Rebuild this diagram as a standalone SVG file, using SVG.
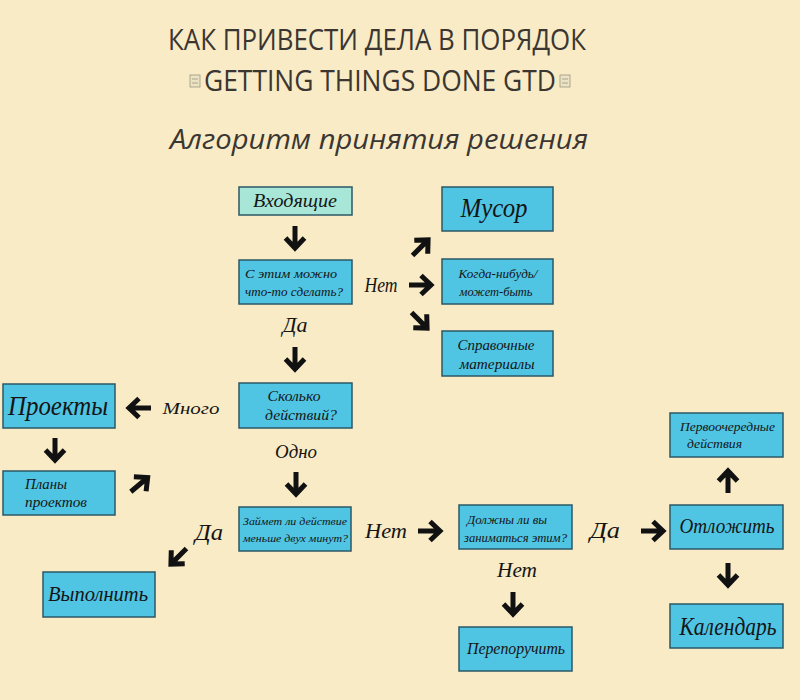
<svg xmlns="http://www.w3.org/2000/svg" width="800" height="700" viewBox="0 0 800 700">
<style>
.bg{fill:#f8ebc6}
.box{fill:#4fc4e3;stroke:#2b5866;stroke-width:1.5}
.mint{fill:#a8e7d8;stroke:#2b5866;stroke-width:1.5}
.t{font-family:"Liberation Serif","DejaVu Serif",serif;font-style:italic;fill:#151515;text-anchor:middle}
.tl{font-family:"Liberation Serif","DejaVu Serif",serif;font-style:italic;fill:#151515}
.lab{font-family:"Liberation Serif","DejaVu Serif",serif;font-style:italic;fill:#151515;text-anchor:middle}
.title{font-family:"Open Sans","DejaVu Sans",sans-serif;fill:#3b3631;text-anchor:middle}
.arr{fill:none;stroke:#111;stroke-width:5;stroke-linejoin:miter}
.tofu{fill:#ece3c4;stroke:#9c9680;stroke-width:0.8}
</style>
<defs>
<g id="ar"><path class="arr" d="M-12,0 H9 M0,-9.5 L10,0 L0,9.5"/></g>
</defs>
<rect class="bg" x="0" y="0" width="800" height="700"/>
<g id="title">
<text class="title" x="377" y="50" font-size="30" textLength="418" lengthAdjust="spacingAndGlyphs">КАК ПРИВЕСТИ ДЕЛА В ПОРЯДОК</text>
<text class="title" x="380" y="91" font-size="30" textLength="352" lengthAdjust="spacingAndGlyphs">GETTING THINGS DONE GTD</text>
<rect class="tofu" x="190" y="75" width="10" height="12"/>
<path d="M192,79 h6 M192,83 h6" stroke="#9c9680" stroke-width="0.8"/>
<rect class="tofu" x="560" y="75" width="10" height="12"/>
<path d="M562,79 h6 M562,83 h6" stroke="#9c9680" stroke-width="0.8"/>
<text class="title" x="379" y="149" font-size="28" font-style="italic" textLength="418" lengthAdjust="spacingAndGlyphs">Алгоритм принятия решения</text>
</g>
<g id="n-inbox"><rect class="mint" x="239" y="187" width="113" height="28"/><text class="t" x="295" y="207" font-size="19" textLength="84" lengthAdjust="spacingAndGlyphs">Входящие</text></g>
<g id="n-trash"><rect class="box" x="442" y="187" width="111" height="44"/><text class="t" x="494" y="217" font-size="28" textLength="67" lengthAdjust="spacingAndGlyphs">Мусор</text></g>
<g id="n-can"><rect class="box" x="239" y="260" width="113" height="44"/><text class="tl" x="245" y="278" font-size="13" textLength="92" lengthAdjust="spacingAndGlyphs">С этим можно</text><text class="tl" x="245" y="296" font-size="13" textLength="98" lengthAdjust="spacingAndGlyphs">что-то сделать?</text></g>
<g id="n-someday"><rect class="box" x="442" y="259" width="111" height="45"/><text class="t" x="498" y="278" font-size="13" textLength="79" lengthAdjust="spacingAndGlyphs">Когда-нибудь/</text><text class="t" x="496" y="296" font-size="13" textLength="73" lengthAdjust="spacingAndGlyphs">может-быть</text></g>
<g id="n-ref"><rect class="box" x="442" y="331" width="111" height="45"/><text class="t" x="496" y="350" font-size="15" textLength="77" lengthAdjust="spacingAndGlyphs">Справочные</text><text class="t" x="497" y="369" font-size="15" textLength="75" lengthAdjust="spacingAndGlyphs">материалы</text></g>
<g id="n-howmany"><rect class="box" x="239" y="383" width="113" height="45"/><text class="t" x="294" y="401" font-size="15" textLength="53" lengthAdjust="spacingAndGlyphs">Сколько</text><text class="t" x="301" y="420" font-size="15" textLength="72" lengthAdjust="spacingAndGlyphs">действий?</text></g>
<g id="n-projects"><rect class="box" x="3" y="384" width="112" height="44"/><text class="t" x="58" y="415" font-size="28" textLength="100" lengthAdjust="spacingAndGlyphs">Проекты</text></g>
<g id="n-plans"><rect class="box" x="3" y="471" width="112" height="44"/><text class="tl" x="25" y="489" font-size="14" textLength="42" lengthAdjust="spacingAndGlyphs">Планы</text><text class="tl" x="25" y="507" font-size="14" textLength="62" lengthAdjust="spacingAndGlyphs">проектов</text></g>
<g id="n-2min"><rect class="box" x="239" y="507" width="112" height="44"/><text class="tl" x="243" y="525" font-size="11" textLength="104" lengthAdjust="spacingAndGlyphs">Займет ли действие</text><text class="tl" x="243" y="542" font-size="11" textLength="105" lengthAdjust="spacingAndGlyphs">меньше двух минут?</text></g>
<g id="n-do"><rect class="box" x="43" y="572" width="112" height="45"/><text class="t" x="98" y="601" font-size="21" textLength="100" lengthAdjust="spacingAndGlyphs">Выполнить</text></g>
<g id="n-should"><rect class="box" x="459" y="505" width="113" height="44"/><text class="tl" x="467" y="524" font-size="12" textLength="80" lengthAdjust="spacingAndGlyphs">Должны ли вы</text><text class="tl" x="464" y="542" font-size="12" textLength="103" lengthAdjust="spacingAndGlyphs">заниматься этим?</text></g>
<g id="n-defer"><rect class="box" x="670" y="505" width="113" height="44"/><text class="t" x="727" y="533" font-size="22" textLength="95" lengthAdjust="spacingAndGlyphs">Отложить</text></g>
<g id="n-next"><rect class="box" x="670" y="413" width="113" height="44"/><text class="tl" x="680" y="431" font-size="13" textLength="95" lengthAdjust="spacingAndGlyphs">Первоочередные</text><text class="tl" x="687" y="448" font-size="13" textLength="55" lengthAdjust="spacingAndGlyphs">действия</text></g>
<g id="n-delegate"><rect class="box" x="459" y="627" width="113" height="44"/><text class="t" x="516" y="654" font-size="17" textLength="98" lengthAdjust="spacingAndGlyphs">Перепоручить</text></g>
<g id="n-calendar"><rect class="box" x="670" y="604" width="113" height="44"/><text class="t" x="728" y="635" font-size="26" textLength="97" lengthAdjust="spacingAndGlyphs">Календарь</text></g>
<g id="connectors">
<use href="#ar" transform="translate(295,238) rotate(90)"/>
<use href="#ar" transform="translate(421,247) rotate(-45)"/>
<use href="#ar" transform="translate(421,285)"/>
<use href="#ar" transform="translate(420,321) rotate(45)"/>
<use href="#ar" transform="translate(295,359) rotate(90)"/>
<use href="#ar" transform="translate(139,408) rotate(180)"/>
<use href="#ar" transform="translate(296,484) rotate(90)"/>
<use href="#ar" transform="translate(55,450) rotate(90)"/>
<use href="#ar" transform="translate(140,484) rotate(-40)"/>
<use href="#ar" transform="translate(178,557) rotate(135)"/>
<use href="#ar" transform="translate(430,531)"/>
<use href="#ar" transform="translate(653,531)"/>
<use href="#ar" transform="translate(513,604) rotate(90)"/>
<use href="#ar" transform="translate(728,481) rotate(-90)"/>
<use href="#ar" transform="translate(728,575) rotate(90)"/>
<text class="lab" x="381" y="292" font-size="21" textLength="33" lengthAdjust="spacingAndGlyphs">Нет</text>
<text class="lab" x="295" y="332" font-size="20" textLength="25" lengthAdjust="spacingAndGlyphs">Да</text>
<text class="lab" x="191" y="414" font-size="17" textLength="57" lengthAdjust="spacingAndGlyphs">Много</text>
<text class="lab" x="296" y="458" font-size="19" textLength="42" lengthAdjust="spacingAndGlyphs">Одно</text>
<text class="lab" x="209" y="540" font-size="24" textLength="28" lengthAdjust="spacingAndGlyphs">Да</text>
<text class="lab" x="386" y="538" font-size="22" textLength="42" lengthAdjust="spacingAndGlyphs">Нет</text>
<text class="lab" x="605" y="538" font-size="24" textLength="30" lengthAdjust="spacingAndGlyphs">Да</text>
<text class="lab" x="517" y="577" font-size="21" textLength="40" lengthAdjust="spacingAndGlyphs">Нет</text>
</g>
</svg>
